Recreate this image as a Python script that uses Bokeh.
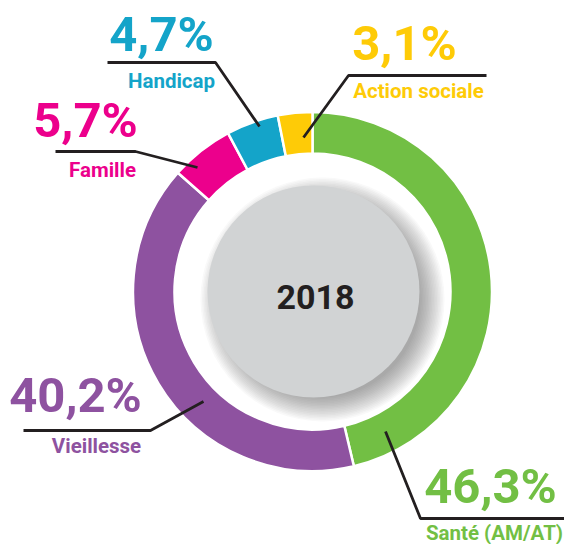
import math
from bokeh.plotting import figure
from bokeh.models import Range1d, ColumnDataSource
from bokeh.core.properties import value
from bokeh.embed import file_html
from bokeh.resources import INLINE

# ---- data ----
categories = ["Santé (AM/AT)", "Vieillesse", "Famille", "Handicap", "Action sociale"]
shares = [46.3, 40.2, 5.7, 4.7, 3.1]
colors = ["#72BF44", "#8E52A0", "#EC008C", "#14A4C9", "#FECB07"]
year_label = "2018"

# ---- layout (picture pixel coordinates) ----
W, H = 564, 544
def X(px):
    return px
def Y(py):
    return H - py

BASE_FIX = 0.34   # empirical correction of the rendered baseline

def add_text(x, y_base, txt, size, color):
    p.text(x=[X(x)], y=[Y(y_base - BASE_FIX * size)], text=[txt], text_align="center",
           text_baseline="alphabetic", text_font=value("Roboto"), text_font_style="bold",
           text_font_size=f"{size}px", text_color=color)

CX, CY = 312, 291          # ring centre
R_OUT, R_IN = 179.5, 138
R_GRAY = 106

# label layout: (pct centre x, pct baseline y, name centre x, name baseline y, connector polyline)
layout = {
    "Santé (AM/AT)": (490, 503, 494, 539, [(385, 431), (420, 518), (564, 518)]),
    "Vieillesse": (75, 412, 96, 452, [(203, 401), (150, 430), (23, 430)]),
    "Famille": (85, 137, 102, 176, [(197, 167), (135, 151), (55, 151)]),
    "Handicap": (161, 51, 171, 87, [(259, 126), (215, 62), (107, 62)]),
    "Action sociale": (404, 60, 418, 97, [(303, 137), (348, 75), (486, 75)]),
}

p = figure(width=W, height=H, output_backend="svg", toolbar_location=None,
           x_range=Range1d(0, W), y_range=Range1d(0, H), min_border=0)
p.axis.visible = False
p.grid.visible = False
p.outline_line_color = None
p.background_fill_color = "white"
p.border_fill_color = "white"

# ring
total = sum(shares)
starts, ends = [], []
cum = 0.0
for s in shares:
    starts.append(math.pi / 2 - 2 * math.pi * cum / total)
    cum += s
    ends.append(math.pi / 2 - 2 * math.pi * cum / total)
src = ColumnDataSource(dict(start=starts, end=ends, color=colors, cat=categories))
p.annular_wedge(x=X(CX), y=Y(CY), inner_radius=R_IN, outer_radius=R_OUT,
                start_angle="start", end_angle="end", direction="clock",
                fill_color="color", line_color="white", line_width=2.5, source=src)

# soft shadow of the centre disc (offset to bottom-right)
for k in range(17):
    r = 98 + 1.5 * k
    p.circle(x=X(CX + 10), y=Y(CY + 8), radius=r, fill_color="#3a3a40",
             fill_alpha=0.03, line_color=None)
p.circle(x=X(CX + 1), y=Y(CY), radius=R_GRAY, fill_color="#D1D3D4", line_color=None)
add_text(CX + 3, 308, year_label, 34, "#231F20")

# labels and connectors
for cat, sh, col in zip(categories, shares, colors):
    px_, py_, nx, ny, poly = layout[cat]
    p.line(x=[X(a) for a, b in poly], y=[Y(b) for a, b in poly],
           line_color="#231F20", line_width=2.8)
    pct = f"{sh:.1f}".replace(".", ",") + "%"
    add_text(px_, py_, pct, 49, col)
    add_text(nx, ny, cat, 20.5, col)

open("out.html", "w").write(file_html(p, INLINE))
